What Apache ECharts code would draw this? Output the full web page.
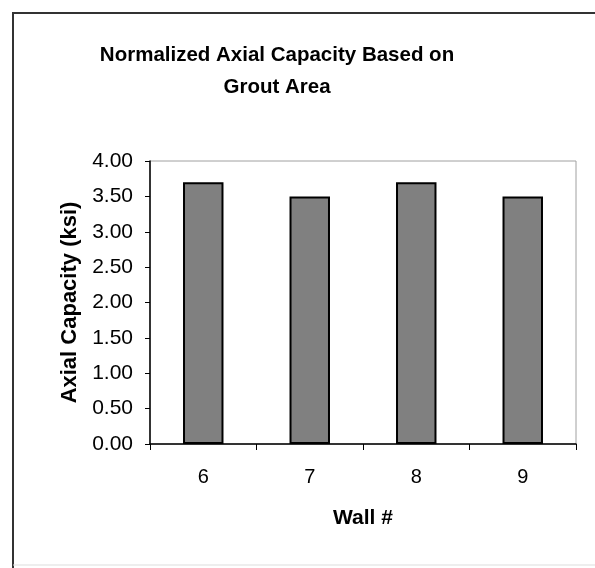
<!DOCTYPE html>
<html>
<head>
<meta charset="utf-8">
<script src="https://cdn.jsdelivr.net/npm/echarts@6/dist/echarts.min.js"></script>
<style>
  html, body { margin: 0; padding: 0; background: #fff; }
  #chart { width: 595px; height: 568px; }
</style>
</head>
<body>
<div id="chart"></div>
<script>
// Wall numbers and their normalized axial capacity (ksi)
const walls = ['6', '7', '8', '9'];
const capacity = [3.70, 3.50, 3.70, 3.50];
const yTicks = ['0.00', '0.50', '1.00', '1.50', '2.00', '2.50', '3.00', '3.50', '4.00'];

const chart = echarts.init(document.getElementById('chart'), null, { renderer: 'canvas' });
const font = 'Arial, "Liberation Sans", sans-serif';

const option = {
  backgroundColor: '#fff',
  animation: false,
  title: {
    text: 'Normalized Axial Capacity Based on\nGrout Area',
    left: 272,
    top: 34,
    textAlign: 'center',
    textStyle: { fontFamily: font, fontSize: 20.5, fontWeight: 'bold', color: '#000', lineHeight: 32 }
  },
  graphic: [
    // frame around the whole chart
    { type: 'line', shape: { x1: 12, y1: 13, x2: 595, y2: 13 }, style: { stroke: '#333', lineWidth: 2 } },
    { type: 'line', shape: { x1: 13, y1: 12, x2: 13, y2: 568 }, style: { stroke: '#333', lineWidth: 2 } },
    { type: 'line', shape: { x1: 13, y1: 565, x2: 595, y2: 565 }, style: { stroke: '#ddd', lineWidth: 1 } }
  ],
  grid: {
    left: 150, top: 161, width: 426, height: 283,
    show: true, borderColor: '#a0a0a0', borderWidth: 1, backgroundColor: 'transparent'
  },
  xAxis: {
    type: 'category',
    data: walls,
    name: 'Wall #',
    nameLocation: 'middle',
    nameGap: 64,
    nameTextStyle: { fontFamily: font, fontSize: 21, fontWeight: 'bold', color: '#000' },
    axisLine: { lineStyle: { color: '#000', width: 1.5 } },
    axisTick: { show: true, alignWithLabel: false, length: 6, lineStyle: { color: '#000' } },
    axisLabel: { fontFamily: font, fontSize: 20, color: '#000', margin: 23 },
    splitLine: { show: false }
  },
  yAxis: {
    type: 'value',
    min: 0, max: 4, interval: 0.5,
    name: 'Axial Capacity (ksi)',
    nameLocation: 'middle',
    nameGap: 68,
    nameTextStyle: { fontFamily: font, fontSize: 22, fontWeight: 'bold', color: '#000' },
    axisLine: { show: true, lineStyle: { color: '#000', width: 1.5 } },
    axisTick: { show: true, length: 5, lineStyle: { color: '#000' } },
    axisLabel: {
      fontFamily: font, fontSize: 21, color: '#000', margin: 17,
      formatter: (v) => yTicks[Math.round(v / 0.5)]
    },
    splitLine: { show: false }
  },
  series: [{
    type: 'bar',
    data: capacity,
    barWidth: '38%',
    itemStyle: { color: '#808080', borderColor: '#000', borderWidth: 2 }
  }]
};

chart.setOption(option);
</script>
</body>
</html>
